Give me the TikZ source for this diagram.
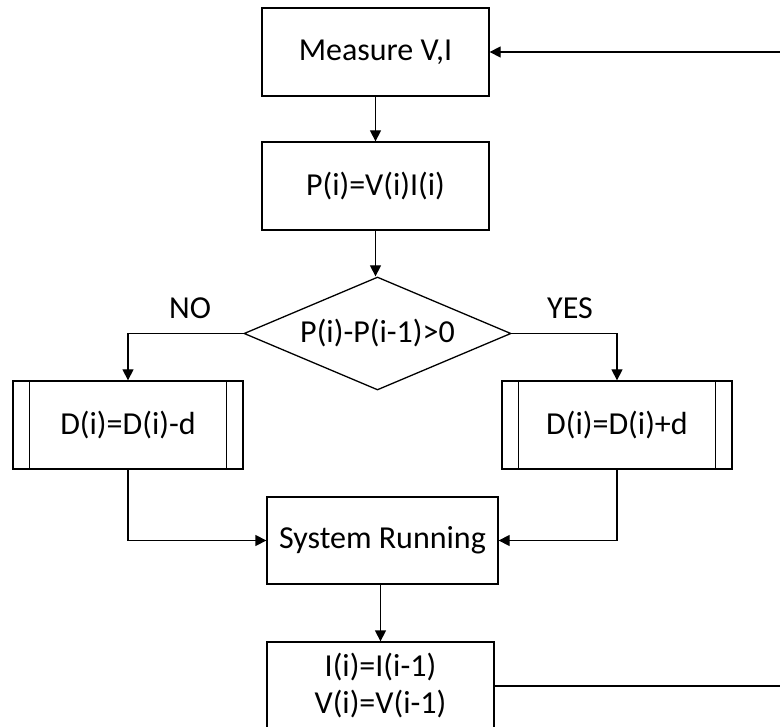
\documentclass[tikz,border=0pt]{standalone}
\usepackage{fontspec}
\setmainfont{Carlito}
\usetikzlibrary{shapes.geometric,arrows.meta,calc}
\begin{document}
\begin{tikzpicture}[x=1pt,y=-1pt,
  every node/.style={font=\fontsize{32}{37}\selectfont, inner sep=0pt},
  box/.style={draw, line width=1.3pt, minimum width=227pt, minimum height=88pt, align=center},
  pbox/.style={draw, line width=1.3pt, minimum width=230pt, minimum height=88pt},
  dec/.style={draw, line width=1.3pt, diamond, minimum width=267pt, minimum height=113pt, aspect=2.36},
  conn/.style={line width=1.3pt},
  arr/.style={conn, -{Triangle[length=11pt,width=11pt]}},
  lbl/.style={}]
\useasboundingbox (0,0) rectangle (780,727);
\node[box] (meas) at (375.5,52) {Measure V,I};
\node[box] (pow) at (375.5,186) {P(i)=V(i)I(i)};
\node[dec] (cmp) at (377.5,333.5) {P(i)-P(i-1)>0};
\node[pbox] (dec) at (128,425) {D(i)=D(i)-d};
\node[pbox] (inc) at (617,425) {D(i)=D(i)+d};
\node[box, minimum width=231pt, minimum height=87pt] (sys) at (382.5,540.5) {System Running};
\node[box] (upd) at (380.5,686) {I(i)=I(i-1)\\V(i)=V(i-1)};
\node[lbl] (no) at (190,308) {NO};
\node[lbl] (yes) at (570,308) {YES};
\coordinate (fbtop) at (780,52);
\coordinate (fbbot) at (780,686);
% inner lines for predefined process boxes
\draw[conn] ($(dec.north west)+(17,0)$) -- ($(dec.south west)+(17,0)$);
\draw[conn] ($(dec.north east)+(-17,0)$) -- ($(dec.south east)+(-17,0)$);
\draw[conn] ($(inc.north west)+(17,0)$) -- ($(inc.south west)+(17,0)$);
\draw[conn] ($(inc.north east)+(-17,0)$) -- ($(inc.south east)+(-17,0)$);
% connectors
\draw[arr] (meas.south) -- (meas.south |- pow.north);
\draw[arr] (pow.south) -- (pow.south |- cmp.north);
\draw[arr] (cmp.west) -| (dec.north);
\draw[arr] (cmp.east) -| (inc.north);
\draw[arr] (dec.south) |- (sys.west);
\draw[arr] (inc.south) |- (sys.east);
\draw[arr] (sys.south -| upd.north) -- (upd.north);
\draw[conn] (upd.east) -- (fbbot);
\draw[arr] (fbtop) -- (meas.east);
\end{tikzpicture}
\end{document}
